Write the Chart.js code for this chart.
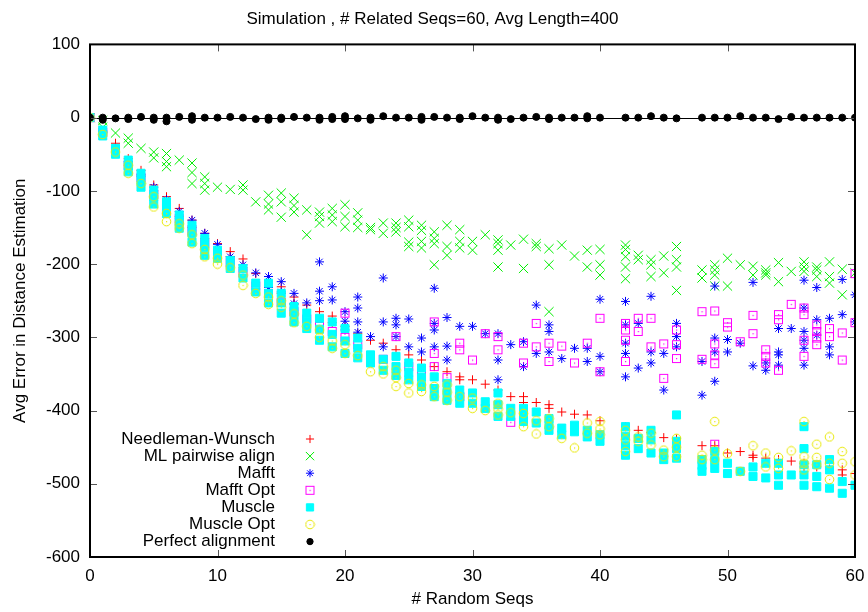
<!DOCTYPE html>
<html>
<head>
<meta charset="utf-8">
<script src="https://cdn.jsdelivr.net/npm/chart.js@4.4.0/dist/chart.umd.min.js"></script>
<style>
  html, body { margin: 0; padding: 0; background: #fff; }
</style>
</head>
<body>
<canvas id="errChart" width="868" height="612"></canvas>
<script>
// x values (number of random seqs); 41 and 47 have no data
const seqs = [
  0, 1, 2, 3, 4, 5, 6, 7, 8, 9,
  10, 11, 12, 13, 14, 15, 16, 17, 18, 19,
  20, 21, 22, 23, 24, 25, 26, 27, 28, 29,
  30, 31, 32, 33, 34, 35, 36, 37, 38, 39,
  40, 42, 43, 44, 45, 46, 48, 49, 50, 51,
  52, 53, 54, 55, 56, 57, 58, 59, 60
];

// one list of errors per x value, same order as seqs
const needleman = [
  [0],[-20],[-35,-44],[-56,-65],[-72,-80],[-92,-100],[-108,-118],[-124,-135],[-140,-150],[-158,-165],
  [-172,-180],[-183,-190],[-193,-205],[-213],[-222,-232],[-231,-240],[-245,-255],[-256],[-265,-272],[-271,-280],
  [-285],[-295],[-304],[-308],[-317],[-324],[-331],[-340],[-347],[-354,-358],
  [-358],[-364],[-372],[-381],[-381,-389],[-389],[-392,-397],[-402],[-405],[-406],
  [-414],[-422],[-427],[-430],[-437],[-439],[-448],[-448],[-458],[-456],
  [-461,-464],[-465],[-467,-472],[-469],[-472,-477],[-477],[-480],[-481,-488],[-486]
];
const mlPairwise = [
  [0],[-4,-13],[-21],[-28,-35],[-42],[-47,-55],[-49,-60,-67],[-58],[-62,-75,-90],[-81,-90,-99],
  [-95],[-98],[-92,-99],[-115],[-106,-118,-126],[-103,-115,-136],[-110,-120,-129],[-126,-160],[-129,-135,-144],[-124,-133,-142],
  [-119,-135,-149],[-130,-140,-150],[-150,-153],[-144,-158],[-144,-150,-156],[-140,-149,-170,-176],[-147,-154,-169,-178],[-156,-165,-172,-201],[-147,-176,-188],[-153,-169,-178],
  [-169,-181],[-160],[-167,-172,-181,-204],[-174],[-166,-206],[-172,-176],[-179,-201,-265],[-174],[-189],[-181,-204],
  [-180,-201,-215],[-174,-180,-190,-204,-220],[-188,-194],[-194,-201,-217],[-189,-212],[-176,-194,-204,-236],[-208,-219],[-201,-208,-215,-230],[-192,-230],[-201],
  [-203,-215],[-208,-212,-215],[-198,-224],[-210],[-197,-204,-210],[-204,-208,-217],[-197,-217,-226],[-207,-242],[-212]
];
const mafft = [
  [0],[-18],[-42],[-60],[-78],[-95],[-112],[-128],[-140,-148],[-158],
  [-173],[-190],[-201],[-212],[-217,-232],[-224,-238],[-240,-254],[-253],[-197,-237,-250],[-231,-249],
  [-265,-278,-290],[-245,-260,-279,-293],[-299],[-219,-279,-313],[-274,-283,-299],[-275,-313],[-301,-320],[-233,-281,-290,-313],[-273,-312,-331],[-285],
  [-285],[-295],[-295,-331,-358],[-310],[-306,-340],[-256,-322],[-283,-292,-320],[-329],[-315],[-315,-333],
  [-248,-326,-347],[-251,-283,-308,-322,-354],[-281,-342],[-244,-320,-335],[-322,-372],[-281,-299,-313],[-333,-379],[-230,-301,-320,-360],[-303,-320],[-308],
  [-225,-339],[-335,-345],[-288,-320,-324,-338],[-288],[-222,-260,-292,-304,-315,-338],[-232,-276,-297],[-274,-313,-324],[-221,-269],[-242,-279]
];
const mafftOpt = [
  [0],[-20],[-44],[-65],[-82],[-105],[-120],[-138],[-155],[-172],
  [-186],[-198],[-212],[-230],[-240],[-252],[-265],[-275],[-285],[-292],
  [-267,-300],[-310],[-325],[-330],[-299],[-340],[-350],[-279,-322,-340],[-355],[-308,-317,-381],
  [-331],[-295],[-299,-317],[-416],[-308,-335],[-281,-313],[-308,-333],[-312],[-335],[-308],
  [-274,-347],[-281,-290,-304,-333],[-274,-292],[-274,-313],[-309,-356],[-290,-310,-329],[-265,-330],[-264,-309,-324,-336,-446],[-280,-286],[-306],
  [-270,-295],[-317,-326,-335],[-269,-276,-345],[-255],[-260,-269,-304,-326],[-283,-292,-301,-310],[-288,-299],[-294,-331],[-213,-280]
];
const muscle = [
  [0],[-17,-25],[-42,-50],[-58,-66,-74],[-76,-85,-95],[-99,-108,-118],[-115,-123,-131],[-133,-142,-151],[-147,-158,-170],[-165,-176,-188],
  [-181,-192],[-195,-206],[-206,-219],[-226,-238],[-226,-240,-253],[-240,-253,-267],[-258,-268,-279],[-267,-278,-288],[-274,-289,-304],[-279,-296,-313],
  [-288,-305,-322],[-301,-315,-328],[-324,-335],[-330,-345],[-326,-340,-352],[-335,-348,-358],[-342,-355,-367],[-354,-370,-381],[-363,-375,-386],[-372,-381,-390],
  [-376,-390],[-388,-397],[-376,-392,-408],[-397,-408],[-397,-406,-415],[-402,-417],[-411,-420,-427],[-424,-433],[-420,-429],[-427,-436],
  [-433,-442],[-422,-435,-448,-461],[-438,-452],[-427,-440,-458],[-458,-467],[-406,-442,-452,-465],[-467,-475,-483],[-456,-468,-479],[-472,-486],[-483],
  [-477,-490],[-472,-492],[-472,-488,-502],[-488],[-422,-452,-474,-488,-502],[-474,-490,-504],[-467,-481,-506],[-497,-513],[-502]
];
const muscleOpt = [
  [0],[-23],[-47],[-65,-76],[-90],[-108,-122],[-131,-142],[-145,-151],[-160,-172],[-180,-190],
  [-192,-200],[-205],[-215,-229],[-240],[-245,-255],[-250,-259],[-268,-280],[-285],[-290,-300],[-305,-315],
  [-310,-322],[-325],[-347],[-340,-350],[-345,-355,-367],[-363,-376],[-365,-374],[-367,-381],[-365,-375,-386],[-381],
  [-383,-397],[-400],[-390,-398,-406],[-403],[-404,-422],[-414,-432],[-411,-422],[-438],[-451],[-417,-431],
  [-415,-425,-433],[-427,-440,-456],[-436,-442],[-431,-447],[-454,-463],[-438,-450,-463],[-461,-467],[-415,-454,-467],[-459],[-483],
  [-448],[-458,-477],[-464,-479],[-455],[-415,-463,-472,-481],[-446,-464,-474],[-436,-472,-494],[-456,-472],[-470,-488]
];
const perfect = [
  [0],[0,-3],[-1],[0,-2],[1],[0,-3],[0,-5],[1],[2,-3],[0],
  [0],[1],[0],[-2],[0,-3],[0,-2],[1],[0],[0,-3],[1,-2],
  [2,-2],[-1],[0,-3],[2],[0],[0],[1,-3],[1],[0],[0,-2],
  [2],[0],[0,-3],[-2],[0],[1],[0,-2],[0],[0],[2,-1],
  [0],[0],[0],[2],[0],[-1],[0],[0],[0],[2],
  [0],[0],[-2],[1],[0],[0],[0],[0],[0]
];

const yTicks = [-600, -500, -400, -300, -200, -100, 0, 100];
const xTicks = [0, 10, 20, 30, 40, 50, 60];

function toPoints(vals) {
  return seqs.flatMap((x, i) => vals[i].map(y => ({x: x, y: y})));
}

// gnuplot-like open symbols with a centre dot
function dotSymbol(kind, color) {
  const c = document.createElement('canvas');
  c.width = 11; c.height = 11;
  const g = c.getContext('2d');
  g.strokeStyle = color; g.fillStyle = color; g.lineWidth = 1;
  if (kind === 'box') {
    g.strokeRect(1.5, 1.5, 8, 8);
  } else {
    g.beginPath(); g.arc(5.5, 5.5, 4.3, 0, Math.PI * 2); g.stroke();
  }
  g.fillRect(5, 5, 1.2, 1.2);
  return c;
}
const boxDot = dotSymbol('box', '#ff00ff');
const circDot = dotSymbol('circle', '#e8e800');

const series = [
  {label: 'Needleman-Wunsch', data: toPoints(needleman), pointStyle: 'cross', pointRadius: 4.5,
   pointBorderColor: '#ff0000', pointBackgroundColor: '#ff0000', order: 7},
  {label: 'ML pairwise align', data: toPoints(mlPairwise), pointStyle: 'crossRot', pointRadius: 6.5,
   pointBorderColor: '#00ee00', pointBackgroundColor: '#00ee00', order: 6},
  {label: 'Mafft', data: toPoints(mafft), pointStyle: 'star', pointRadius: 4.5,
   pointBorderColor: '#0000ff', pointBackgroundColor: '#0000ff', order: 5},
  {label: 'Mafft Opt', data: toPoints(mafftOpt), pointStyle: boxDot, pointRadius: 5.5,
   pointBorderColor: '#ff00ff', pointBackgroundColor: '#ff00ff', order: 4},
  {label: 'Muscle', data: toPoints(muscle), pointStyle: 'rect', pointRadius: 5.7,
   pointBorderColor: '#00ffff', pointBackgroundColor: '#00ffff', order: 3},
  {label: 'Muscle Opt', data: toPoints(muscleOpt), pointStyle: circDot, pointRadius: 5.5,
   pointBorderColor: '#e8e800', pointBackgroundColor: '#e8e800', order: 2},
  {label: 'Perfect alignment', data: toPoints(perfect), pointStyle: 'circle', pointRadius: 3.5,
   pointBorderColor: '#000', pointBackgroundColor: '#000', order: 1}
];
series.forEach(s => { s.showLine = false; s.pointBorderWidth = 1; s.pointHoverRadius = s.pointRadius; });

const fontFamily = '"Liberation Sans", Arial, sans-serif';

// box, inward mirrored ticks, zero axis and the key
const gnuFrame = {
  id: 'gnuFrame',
  beforeDatasetsDraw(chart) {
    const {ctx, chartArea: a, scales: {y}} = chart;
    const y0 = Math.round(y.getPixelForValue(0)) + 0.5;
    ctx.save();
    ctx.strokeStyle = '#000'; ctx.lineWidth = 1;
    ctx.beginPath(); ctx.moveTo(a.left, y0); ctx.lineTo(a.right, y0); ctx.stroke();
    ctx.restore();
  },
  afterDatasetsDraw(chart) {
    const {ctx, chartArea: a, scales: {x, y}} = chart;
    ctx.save();
    ctx.strokeStyle = '#555'; ctx.lineWidth = 1;
    ctx.beginPath();
    xTicks.forEach(v => {
      const px = Math.round(x.getPixelForValue(v)) + 0.5;
      ctx.moveTo(px, a.bottom); ctx.lineTo(px, a.bottom - 7);
      ctx.moveTo(px, a.top); ctx.lineTo(px, a.top + 7);
    });
    yTicks.forEach(v => {
      const py = Math.round(y.getPixelForValue(v)) + 0.5;
      ctx.moveTo(a.left, py); ctx.lineTo(a.left + 7, py);
      ctx.moveTo(a.right, py); ctx.lineTo(a.right - 7, py);
    });
    ctx.stroke();
    ctx.strokeStyle = '#000'; ctx.lineWidth = 2;
    ctx.strokeRect(a.left, a.top, a.right - a.left, a.bottom - a.top);

    ctx.font = '17px ' + fontFamily;
    ctx.textAlign = 'right'; ctx.textBaseline = 'middle';
    const textX = a.left + 185, symX = a.left + 220;
    chart.data.datasets.forEach((ds, i) => {
      const rowY = a.bottom - 118 + i * 17.1;
      ctx.fillStyle = '#000';
      ctx.fillText(ds.label, textX, rowY);
      ctx.fillStyle = ds.pointBackgroundColor;
      ctx.strokeStyle = ds.pointBorderColor;
      ctx.lineWidth = 1;
      Chart.helpers.drawPoint(ctx, {pointStyle: ds.pointStyle, radius: ds.pointRadius * 0.9, rotation: 0, borderWidth: 1}, symX, rowY);
    });
    ctx.restore();
  }
};

const font = {family: fontFamily, size: 17};

new Chart(document.getElementById('errChart'), {
  type: 'scatter',
  data: {datasets: series},
  options: {
    responsive: false,
    devicePixelRatio: 1,
    animation: false,
    layout: {padding: {left: 10, right: 13, top: 0, bottom: 0}},
    plugins: {
      legend: {display: false},
      tooltip: {enabled: false},
      title: {
        display: true,
        text: 'Simulation , # Related Seqs=60, Avg Length=400',
        color: '#000',
        font: {family: fontFamily, size: 17, weight: 'normal'},
        padding: {top: 9, bottom: 15}
      }
    },
    scales: {
      x: {
        type: 'linear', min: 0, max: 60,
        afterBuildTicks: s => { s.ticks = xTicks.map(v => ({value: v})); },
        afterFit: s => { s.height = 55; s.paddingLeft = 0; s.paddingRight = 0; },
        grid: {display: false, drawTicks: false},
        border: {display: false},
        ticks: {color: '#000', font: font, padding: 9, maxRotation: 0},
        title: {display: true, text: '# Random Seqs', color: '#000', font: font, padding: {top: 3, bottom: 2}}
      },
      y: {
        min: -600, max: 100,
        afterBuildTicks: s => { s.ticks = yTicks.map(v => ({value: v})); },
        afterFit: s => { s.width = 80; },
        grid: {display: false, drawTicks: false},
        border: {display: false},
        ticks: {color: '#000', font: font, padding: 10},
        title: {display: true, text: 'Avg Error in Distance Estimation', color: '#000', font: font, padding: {top: 0, bottom: 6}}
      }
    }
  },
  plugins: [gnuFrame]
});
</script>
</body>
</html>
